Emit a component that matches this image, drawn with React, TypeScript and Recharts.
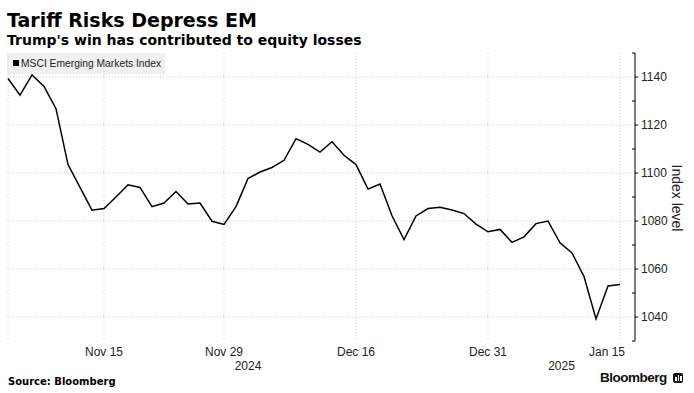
import React from "react";
import { LineChart, Line, XAxis, YAxis, CartesianGrid, ReferenceLine } from "recharts";

// Weekday dates from election day to mid-January
const dates = [
  "2024-11-05", "2024-11-06", "2024-11-07", "2024-11-08",
  "2024-11-11", "2024-11-12", "2024-11-13", "2024-11-14", "2024-11-15",
  "2024-11-18", "2024-11-19", "2024-11-20", "2024-11-21", "2024-11-22",
  "2024-11-25", "2024-11-26", "2024-11-27", "2024-11-28", "2024-11-29",
  "2024-12-02", "2024-12-03", "2024-12-04", "2024-12-05", "2024-12-06",
  "2024-12-09", "2024-12-10", "2024-12-11", "2024-12-12", "2024-12-13",
  "2024-12-16", "2024-12-17", "2024-12-18", "2024-12-19", "2024-12-20",
  "2024-12-23", "2024-12-24", "2024-12-25", "2024-12-26", "2024-12-27",
  "2024-12-30", "2024-12-31",
  "2025-01-01", "2025-01-02", "2025-01-03",
  "2025-01-06", "2025-01-07", "2025-01-08", "2025-01-09", "2025-01-10",
  "2025-01-13", "2025-01-14", "2025-01-15",
];

const msciEM = [
  1139.4, 1132.4, 1140.9, 1136.1,
  1126.8, 1103.5, 1094.0, 1084.5, 1085.2,
  1090.0, 1095.1, 1094.0, 1086.0, 1087.5,
  1092.3, 1087.1, 1087.5, 1079.9, 1078.6,
  1086.0, 1097.7, 1100.4, 1102.3, 1105.3,
  1114.3, 1111.9, 1108.7, 1113.0, 1107.4,
  1103.5, 1093.3, 1095.4, 1082.2, 1072.3,
  1082.1, 1085.2, 1085.7, 1084.6, 1083.1,
  1078.7, 1075.5,
  1076.5, 1071.1, 1073.4,
  1078.9, 1080.0, 1070.9, 1066.7, 1056.9,
  1039.2, 1052.9, 1053.5,
];

const xTickDates = ["2024-11-15", "2024-11-29", "2024-12-16", "2024-12-31", "2025-01-15"];
const xTickLabels = ["Nov 15", "Nov 29", "Dec 16", "Dec 31", "Jan 15"];
const yearLabels = ["2024", "2025"];
const yMajorTicks = [1040, 1060, 1080, 1100, 1120, 1140];
const yAllTicks = [1030, 1040, 1050, 1060, 1070, 1080, 1090, 1100, 1110, 1120, 1130, 1140, 1150];
const yDomain = [1030, 1150];
const xDomainMax = dates.length - 1 + 1.25;

const data = dates.map((d, i) => ({ i, date: d, v: msciEM[i] }));
const xTicks = xTickDates.map((d) => dates.indexOf(d));

const yearCenters = yearLabels.map((y) => {
  const idx = dates.map((d, i) => (d.startsWith(y) ? i : -1)).filter((i) => i >= 0);
  const lo = Math.max(0, idx[0] - 0.5);
  const hi = idx[idx.length - 1] === dates.length - 1 ? xDomainMax : idx[idx.length - 1] + 0.5;
  return (lo + hi) / 2;
});

const FONT = "'Liberation Sans', Arial, sans-serif";
const HEAD = "'DejaVu Sans', Verdana, sans-serif";

const XTick = (props: any) => {
  const { x, y, payload, index } = props;
  const label = xTickLabels[xTicks.indexOf(payload.value)] ?? "";
  const last = index === xTicks.length - 1;
  return (
    <text
      x={last ? x + 5 : x}
      y={y}
      dy="0.71em"
      textAnchor={last ? "end" : "middle"}
      fontSize={12}
      fontFamily={FONT}
      fill="#222"
    >
      {label}
    </text>
  );
};

const YearTick = (props: any) => {
  const { x, y, payload } = props;
  const label = yearLabels[yearCenters.indexOf(payload.value)] ?? "";
  return (
    <text x={x - 3} y={y} dy="0.71em" textAnchor="middle" fontSize={12} fontFamily={FONT} fill="#222">
      {label}
    </text>
  );
};

const YTick = (props: any) => {
  const { x, y, payload } = props;
  const major = yMajorTicks.includes(payload.value);
  if (!major) {
    return <line x1={x - 3} x2={x} y1={y} y2={y} stroke="#000" strokeWidth={1} />;
  }
  return (
    <g>
      <line x1={x} x2={x + 3} y1={y} y2={y} stroke="#000" strokeWidth={1} />
      <text x={x + 6} y={y} dy="0.35em" textAnchor="start" fontSize={12} fontFamily={FONT} fill="#222">
        {payload.value}
      </text>
    </g>
  );
};

export default function App() {
  return (
    <div
      style={{
        position: "absolute",
        left: 0,
        top: 0,
        width: 694,
        height: 393,
        background: "#fff",
        fontFamily: FONT,
        overflow: "hidden",
      }}
    >
      <div
        style={{
          position: "absolute",
          left: 7,
          top: 10.5,
          fontFamily: HEAD,
          fontSize: 19,
          lineHeight: "19px",
          fontWeight: 700,
          color: "#000",
          whiteSpace: "nowrap",
        }}
      >
        Tariff Risks Depress EM
      </div>
      <div
        style={{
          position: "absolute",
          left: 7,
          top: 32.5,
          fontFamily: HEAD,
          fontSize: 14,
          lineHeight: "14px",
          fontWeight: 700,
          color: "#000",
          whiteSpace: "nowrap",
        }}
      >
        Trump's win has contributed to equity losses
      </div>
      <div
        style={{
          position: "absolute",
          left: 7,
          top: 53,
          width: 158,
          height: 21,
          background: "#f0f0f0",
        }}
      >
        <div
          style={{
            position: "absolute",
            left: 6,
            top: 7,
            width: 6,
            height: 6,
            background: "#000",
          }}
        />
        <div
          style={{
            position: "absolute",
            left: 14,
            top: 4,
            fontSize: 10.3,
            lineHeight: "13px",
            color: "#222",
            whiteSpace: "nowrap",
          }}
        >
          MSCI Emerging Markets Index
        </div>
      </div>
      <div style={{ position: "absolute", left: 0, top: 0 }}>
        <LineChart
          width={694}
          height={393}
          data={data}
          margin={{ top: 53, right: 0, bottom: 16, left: 8 }}
        >
          <CartesianGrid stroke="#c8c8c8" strokeDasharray="1 2" horizontal={false} />
          {yMajorTicks.map((v) => (
            <ReferenceLine key={v} y={v} stroke="#c8c8c8" strokeDasharray="1 2" ifOverflow="hidden" />
          ))}
          <XAxis
            dataKey="i"
            type="number"
            domain={[0, xDomainMax]}
            ticks={xTicks}
            interval={0}
            axisLine={false}
            tickLine={false}
            tickSize={0}
            tickMargin={6}
            height={20}
            tick={<XTick />}
          />
          <XAxis
            xAxisId="year"
            dataKey="i"
            type="number"
            domain={[0, xDomainMax]}
            ticks={yearCenters}
            interval={0}
            axisLine={false}
            tickLine={false}
            tickSize={0}
            tickMargin={0}
            height={16}
            tick={<YearTick />}
          />
          <YAxis
            orientation="right"
            type="number"
            domain={yDomain}
            ticks={yAllTicks}
            interval={0}
            width={59}
            tickSize={0}
            tickMargin={0}
            tickLine={false}
            axisLine={{ stroke: "#000", strokeWidth: 1 }}
            tick={<YTick />}
          />
          <Line
            type="linear"
            dataKey="v"
            stroke="#000"
            strokeWidth={1.5}
            dot={false}
            isAnimationActive={false}
          />
        </LineChart>
      </div>
      <div
        style={{
          position: "absolute",
          left: 677,
          top: 198,
          transform: "translate(-50%, -50%) rotate(90deg)",
          fontSize: 14,
          color: "#222",
          whiteSpace: "nowrap",
        }}
      >
        Index level
      </div>
      <div
        style={{
          position: "absolute",
          left: 8,
          top: 376.5,
          fontFamily: HEAD,
          fontSize: 10,
          lineHeight: "10px",
          fontWeight: 700,
          color: "#000",
          whiteSpace: "nowrap",
        }}
      >
        Source: Bloomberg
      </div>
      <div
        style={{
          position: "absolute",
          left: 600,
          top: 370.3,
          fontSize: 13.5,
          lineHeight: "16px",
          letterSpacing: -0.5,
          fontWeight: 700,
          color: "#111",
          whiteSpace: "nowrap",
        }}
      >
        Bloomberg
      </div>
      <div
        style={{
          position: "absolute",
          left: 673,
          top: 373,
          width: 10,
          height: 10,
          borderRadius: 2,
          background: "#111",
        }}
      >
        <div style={{ position: "absolute", left: 2, top: 4, width: 1.5, height: 4, background: "#fff" }} />
        <div style={{ position: "absolute", left: 4.5, top: 2, width: 1.5, height: 6, background: "#fff" }} />
        <div style={{ position: "absolute", left: 7, top: 3, width: 1.5, height: 5, background: "#fff" }} />
      </div>
    </div>
  );
}
